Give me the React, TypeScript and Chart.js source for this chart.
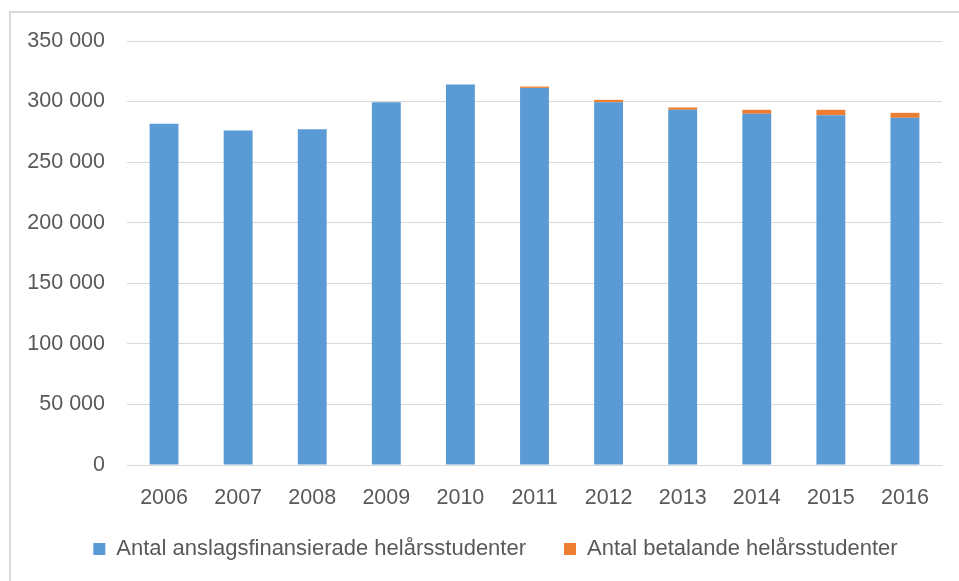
import React, { useEffect, useRef } from "react";
import { Chart, registerables } from "chart.js";

Chart.register(...registerables);

const years = ["2006", "2007", "2008", "2009", "2010", "2011", "2012", "2013", "2014", "2015", "2016"];
const anslagsfinansierade = [281600, 276100, 277200, 299400, 314000, 311300, 299400, 293200, 289900, 288700, 286600];
const betalande = [0, 0, 0, 0, 0, 1100, 2000, 1900, 3300, 4500, 4100];
const seriesNames = ["Antal anslagsfinansierade helårsstudenter", "Antal betalande helårsstudenter"];
const yMax = 350000;
const yStep = 50000;

const FONT = "'Liberation Sans', Arial, sans-serif";
const TEXT = "#595959";
const GRID = "#d9d9d9";

function fmt(v: number): string {
  return String(Math.round(v)).replace(/\B(?=(\d{3})+(?!\d))/g, " ");
}

const shiftLegend = {
  id: "shiftLegend",
  afterLayout(chart: any) {
    const l = chart.legend;
    if (!l) return;
    const dx = 14.5;
    const dy = -11;
    l.left += dx;
    l.right += dx;
    l.top += dy;
    l.bottom += dy;
  },
};

export default function App() {
  const ref = useRef<HTMLCanvasElement | null>(null);
  useEffect(() => {
    if (!ref.current) return;
    const chart = new Chart(ref.current, {
      type: "bar",
      data: {
        labels: years,
        datasets: [
          {
            label: seriesNames[0],
            data: anslagsfinansierade,
            backgroundColor: "#5B9BD5",
            barPercentage: 0.39,
            categoryPercentage: 1,
          },
          {
            label: seriesNames[1],
            data: betalande,
            backgroundColor: "#ED7D31",
            barPercentage: 0.39,
            categoryPercentage: 1,
          },
        ],
      },
      plugins: [shiftLegend],
      options: {
        animation: false,
        responsive: false,
        devicePixelRatio: 1,
        layout: { padding: { left: 20, right: 17, top: 41, bottom: 0 } },
        plugins: {
          legend: {
            position: "bottom",
            labels: {
              boxWidth: 12,
              boxHeight: 12,
              padding: 38,
              color: TEXT,
              font: { family: FONT, size: 22 },
            },
          },
          tooltip: { enabled: false },
        },
        scales: {
          x: {
            stacked: true,
            grid: { display: false, drawTicks: false },
            border: { display: true, color: GRID, width: 1 },
            ticks: { color: TEXT, font: { family: FONT, size: 21.5 }, padding: 20 },
            afterFit: (s: any) => {
              s.height = 46;
            },
          },
          y: {
            stacked: true,
            min: 0,
            max: yMax,
            grid: { color: GRID, drawTicks: false },
            border: { display: false },
            ticks: {
              stepSize: yStep,
              color: TEXT,
              font: { family: FONT, size: 21.5 },
              padding: 22,
              callback: (v: any) => fmt(Number(v)),
            },
            afterFit: (s: any) => {
              s.width = 107;
            },
          },
        },
      },
    });
    return () => chart.destroy();
  }, []);
  return (
    <div style={{ position: "absolute", left: 0, top: 0, width: 959, height: 581, overflow: "hidden", background: "#fff" }}>
      <div
        style={{
          position: "absolute",
          left: 9,
          top: 11,
          width: 1000,
          height: 1000,
          borderLeft: "2px solid #d9d9d9",
          borderTop: "2px solid #d9d9d9",
        }}
      />
      <canvas ref={ref} width={959} height={581} style={{ position: "absolute", left: 0, top: 0, width: 959, height: 581 }} />
    </div>
  );
}
